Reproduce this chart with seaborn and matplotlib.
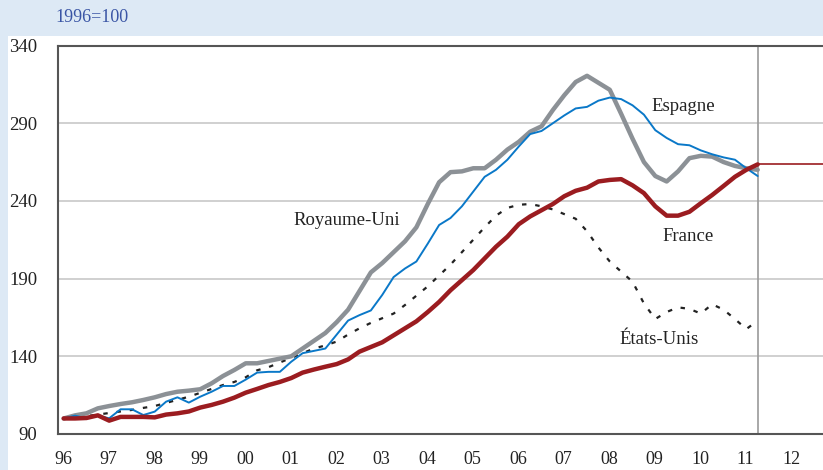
import numpy as np
import pandas as pd
import matplotlib
matplotlib.use("Agg")
import matplotlib.pyplot as plt
import matplotlib.transforms as mtransforms
from matplotlib.patches import Rectangle
import seaborn as sns

# indices trimestriels, 1996T1 -> 2011T2 (1996=100)
france = [100, 100, 100.3, 102, 98.6, 101, 101, 101, 100.7, 102.5, 103.3, 104.5,
          107, 108.7, 110.8, 113.4, 116.6, 119, 121.5, 123.5, 126, 129.5, 131.5, 133.3,
          135, 138, 143, 146, 149, 153.5, 158, 162.5, 168.5, 175, 182.5, 189,
          195.5, 203, 210.5, 217, 225, 230, 234, 238, 243, 246.5, 248.5, 252.5,
          253.5, 254, 250, 245, 236.5, 230.5, 230.5, 233, 238.5, 243.8, 249.6, 255.5,
          260, 263.5]
royaume_uni = [100, 102, 103.3, 106.5, 108, 109.3, 110.4, 111.9, 113.6, 115.7, 117.2, 117.9,
               118.8, 122.6, 127.3, 131.2, 135.5, 135.5, 137, 138.5, 140, 145, 150, 155,
               162, 170, 182, 194, 200, 207, 214, 223, 238, 252, 258.5, 259,
               261, 261, 266.5, 273, 278, 284.5, 288, 298.5, 308, 316.5, 320.5, 316,
               311.5, 296, 280, 265, 256, 252.5, 259, 267.5, 269, 268.5, 265, 262.5,
               261, 260]
espagne = [100, 101.8, 100.1, 101.8, 100.1, 105.9, 105.9, 102.2, 104.4, 110.8, 113.6, 110.2,
           114, 117.2, 120.9, 120.9, 125, 129.5, 130, 130, 136.5, 142, 143.5, 145,
           154, 163, 166.5, 169.5, 179.5, 191, 196.5, 201, 212.5, 224.5, 229, 236.5,
           246, 255.5, 260, 266.5, 275, 283, 285, 290, 295, 299.5, 300.5, 304.5,
           306.5, 305.5, 301.5, 295.5, 285.5, 280.5, 276.5, 275.8, 272.5, 270, 268, 266.5,
           261, 256]
etats_unis = [100, 101.5, 101.5, 102.5, 103.5, 104.5, 105.5, 106.8, 108, 110, 112, 114,
              116.5, 119, 121.5, 123.5, 126.5, 131, 133, 136, 139, 142, 145, 147,
              149.5, 154, 158, 161.5, 164.5, 167.5, 173, 179, 185, 192, 199, 207,
              215, 223, 230.5, 235.5, 237.5, 238, 236.5, 234.5, 231.5, 228.5, 220.5, 210,
              201, 194.5, 188, 174, 164, 168.5, 171.5, 170.5, 167.5, 173.5, 170, 164,
              157.5, 163]
years = np.arange(1996, 2013)
year_labels = [f"{y % 100:02d}" for y in years]
y_ticks = [90, 140, 190, 240, 290, 340]

t = 1996.125 + 0.25 * np.arange(len(france))
df = pd.DataFrame({"t": t, "France": france, "Royaume-Uni": royaume_uni,
                   "Espagne": espagne, "États-Unis": etats_unis})

sns.set_style("white")
plt.rcParams["font.family"] = ["Liberation Serif", "DejaVu Serif"]

bg = "#dde9f5"
fig = plt.figure(figsize=(8.23, 4.70), dpi=100, facecolor=bg)
fig.patches.append(Rectangle((8 / 823, 0), 1 - 8 / 823, 1 - 36 / 470,
                             transform=fig.transFigure, facecolor="white",
                             edgecolor="none", zorder=-5))
ax = fig.add_axes([58 / 823, 1 - 434 / 470, 1 - 58 / 823, (434 - 45.5) / 470])
ax.set_facecolor("white")

xmax = 2012.81
ax.set_xlim(1996, xmax)
ax.set_ylim(90, 340)

for v in y_ticks[1:-1]:
    ax.axhline(v, color="#c8c8c8", lw=1.2, zorder=1)
ax.axvline(t[-1], color="#9a9a9a", lw=1.2, zorder=1)

sns.lineplot(data=df, x="t", y="États-Unis", ax=ax, color="#222222", lw=1.6,
             linestyle=(0, (2, 4)), zorder=3)
sns.lineplot(data=df, x="t", y="Royaume-Uni", ax=ax, color="#8c9196", lw=3.2, zorder=4)
sns.lineplot(data=df, x="t", y="Espagne", ax=ax, color="#0a78c8", lw=1.4, zorder=5)
sns.lineplot(data=df, x="t", y="France", ax=ax, color="#9b1c20", lw=3.2, zorder=6)
ax.hlines(france[-1], t[-1], xmax, color="#9b1c20", lw=1.2, zorder=6)

ax.set_xlabel("")
ax.set_ylabel("")
ax.set_xticks(years)
ax.set_xticklabels(year_labels, fontsize=13, color="#222222")
ax.set_yticks(y_ticks)
ax.set_yticklabels([str(v) for v in y_ticks], fontsize=13.5, color="#222222")
ax.tick_params(axis="x", direction="in", length=5, width=1.2, color="#444444", pad=12)
ax.tick_params(axis="y", direction="in", length=6, width=1.2, color="#a01c20", pad=15)
offset = mtransforms.ScaledTranslation(5 / 100, 0, fig.dpi_scale_trans)
for lab in ax.get_xticklabels():
    lab.set_transform(lab.get_transform() + offset)

for side in ["left", "bottom", "top"]:
    ax.spines[side].set_color("#555555")
    ax.spines[side].set_linewidth(1.5)
ax.spines["right"].set_visible(False)

lab_kw = dict(fontsize=13.5, color="#222222", ha="center", va="center", zorder=7)
ax.text(2002.34, 227.7, "Royaume-Uni", **lab_kw)
ax.text(2009.75, 300.5, "Espagne", **lab_kw)
ax.text(2009.85, 217.0, "France", **lab_kw)
ax.text(2009.2, 150.5, "États-Unis", **lab_kw)

fig.text(55 / 823, 1 - 18 / 470, "1996=100", fontsize=13, color="#3a55a5",
         ha="left", va="center")

fig.savefig("out.png", dpi=100, facecolor=bg)
